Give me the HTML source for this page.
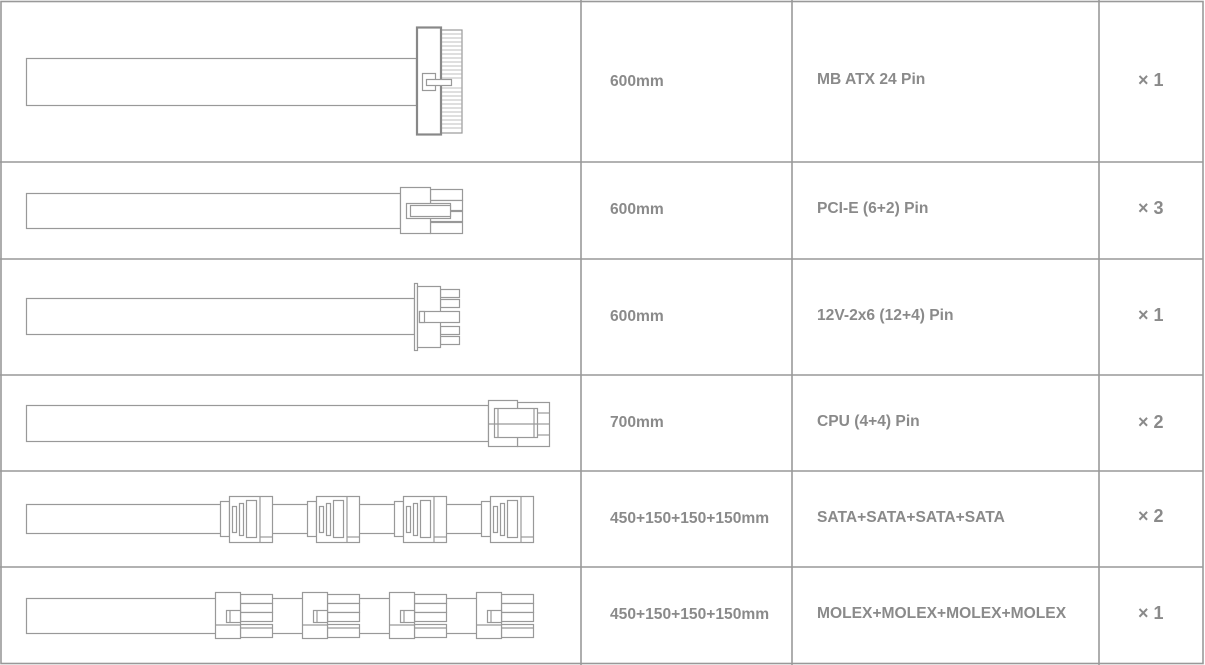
<!DOCTYPE html>
<html><head><meta charset="utf-8"><style>
html,body{margin:0;padding:0;background:#fff;}
svg{display:block;}
text{font-family:"Liberation Sans",Arial,sans-serif;font-weight:bold;fill:#8a8a8a;font-size:15.6px;}
text.q{font-size:18px;}
</style></head><body>
<svg width="1205" height="665" viewBox="0 0 1205 665" xmlns="http://www.w3.org/2000/svg">
<g fill="none" stroke="#999" stroke-width="1.6">
<rect x="1" y="1.5" width="1202" height="662"/>
<line x1="0" y1="162" x2="1203" y2="162"/>
<line x1="0" y1="259" x2="1203" y2="259"/>
<line x1="0" y1="375" x2="1203" y2="375"/>
<line x1="0" y1="471" x2="1203" y2="471"/>
<line x1="0" y1="567" x2="1203" y2="567"/>
<line x1="581" y1="0" x2="581" y2="665"/>
<line x1="792" y1="0" x2="792" y2="665"/>
<line x1="1099" y1="0" x2="1099" y2="665"/>
</g>
<g fill="#fff" stroke="#999" stroke-width="1.2">
<rect x="26.5" y="58.5" width="390" height="47"/>
<rect x="441" y="30" width="21" height="103"/>
<g stroke-width="0.8" stroke="#aaa">
<line x1="441" y1="34" x2="462" y2="34"/><line x1="441" y1="38" x2="462" y2="38"/><line x1="441" y1="42" x2="462" y2="42"/><line x1="441" y1="46" x2="462" y2="46"/><line x1="441" y1="50" x2="462" y2="50"/><line x1="441" y1="54" x2="462" y2="54"/><line x1="441" y1="58" x2="462" y2="58"/><line x1="441" y1="62" x2="462" y2="62"/><line x1="441" y1="66" x2="462" y2="66"/><line x1="441" y1="70" x2="462" y2="70"/><line x1="441" y1="74" x2="462" y2="74"/><line x1="441" y1="78" x2="462" y2="78"/><line x1="441" y1="88" x2="462" y2="88"/><line x1="441" y1="92" x2="462" y2="92"/><line x1="441" y1="96" x2="462" y2="96"/><line x1="441" y1="100" x2="462" y2="100"/><line x1="441" y1="104" x2="462" y2="104"/><line x1="441" y1="108" x2="462" y2="108"/><line x1="441" y1="112" x2="462" y2="112"/><line x1="441" y1="116" x2="462" y2="116"/><line x1="441" y1="120" x2="462" y2="120"/><line x1="441" y1="124" x2="462" y2="124"/><line x1="441" y1="128" x2="462" y2="128"/>
</g>
<rect x="417" y="27.5" width="24" height="107" stroke="#888" stroke-width="2.2"/>
<rect x="422.5" y="73.5" width="13" height="17"/>
<rect x="426.5" y="79.5" width="25" height="6"/>
<rect x="26.5" y="193.5" width="374" height="35"/>
<rect x="430.5" y="189.5" width="32" height="11"/>
<rect x="430.5" y="200.5" width="32" height="10"/>
<rect x="430.5" y="211.5" width="32" height="10"/>
<rect x="430.5" y="222.5" width="32" height="11"/>
<rect x="400.5" y="187.5" width="30" height="46"/>
<rect x="406.5" y="203.5" width="44" height="15"/>
<rect x="410.5" y="205.5" width="40" height="11"/>
<rect x="26.5" y="298.5" width="388" height="36"/>
<rect x="440.5" y="289.5" width="19" height="8"/>
<rect x="440.5" y="299.5" width="19" height="8"/>
<rect x="440.5" y="326.5" width="19" height="8"/>
<rect x="440.5" y="336.5" width="19" height="8"/>
<rect x="414.5" y="283.5" width="3" height="67"/>
<rect x="417.5" y="286.5" width="23" height="61"/>
<rect x="419.5" y="311.5" width="40" height="11"/>
<rect x="419.5" y="311.5" width="5" height="11"/>
<rect x="26.5" y="405.5" width="462" height="36"/>
<rect x="517.5" y="402.5" width="32" height="44"/>
<line x1="537" y1="413" x2="549" y2="413"/><line x1="537" y1="424" x2="549" y2="424"/><line x1="537" y1="435" x2="549" y2="435"/>
<rect x="488.5" y="400.5" width="29" height="46"/>
<rect x="494.5" y="408.5" width="43" height="29"/>
<line x1="498" y1="408" x2="498" y2="438"/><line x1="534" y1="408" x2="534" y2="438"/>
<line x1="488" y1="424" x2="537" y2="424"/>
<rect x="26.5" y="504.5" width="460" height="29"/>
<g id="sata">
<rect x="220.5" y="501.5" width="9" height="35"/>
<rect x="229.5" y="496.5" width="43" height="46"/>
<line x1="260" y1="496" x2="260" y2="542"/>
<line x1="260" y1="537" x2="272" y2="537"/>
<rect x="232.5" y="506.5" width="4" height="26"/>
<rect x="239.5" y="503.5" width="4" height="32"/>
<rect x="246.5" y="500.5" width="10" height="37"/>
</g>
<use href="#sata" x="87"/>
<use href="#sata" x="174"/>
<use href="#sata" x="261"/>
<rect x="26.5" y="598.5" width="455" height="35"/>
<g id="molex">
<rect x="240.5" y="594.5" width="32" height="9"/>
<rect x="240.5" y="603.5" width="32" height="9"/>
<rect x="240.5" y="612.5" width="32" height="9"/>
<rect x="240.5" y="624.5" width="32" height="13"/>
<line x1="240" y1="628" x2="272" y2="628"/>
<rect x="215.5" y="592.5" width="25" height="46"/>
<line x1="215" y1="625" x2="240" y2="625"/>
<rect x="226.5" y="610.5" width="14" height="12"/>
<line x1="230" y1="610" x2="230" y2="622"/>
</g>
<use href="#molex" x="87"/>
<use href="#molex" x="174"/>
<use href="#molex" x="261"/>
</g>
<text x="610" y="86">600mm</text>
<text x="817" y="84">MB ATX 24 Pin</text>
<text class="q" x="1138" y="86">× 1</text>
<text x="610" y="214">600mm</text>
<text x="817" y="213">PCI-E (6+2) Pin</text>
<text class="q" x="1138" y="214">× 3</text>
<text x="610" y="321">600mm</text>
<text x="817" y="320">12V-2x6 (12+4) Pin</text>
<text class="q" x="1138" y="321">× 1</text>
<text x="610" y="427">700mm</text>
<text x="817" y="426">CPU (4+4) Pin</text>
<text class="q" x="1138" y="428">× 2</text>
<text x="610" y="523">450+150+150+150mm</text>
<text x="817" y="522">SATA+SATA+SATA+SATA</text>
<text class="q" x="1138" y="522">× 2</text>
<text x="610" y="619">450+150+150+150mm</text>
<text x="817" y="618">MOLEX+MOLEX+MOLEX+MOLEX</text>
<text class="q" x="1138" y="619">× 1</text>
</svg>
</body></html>
